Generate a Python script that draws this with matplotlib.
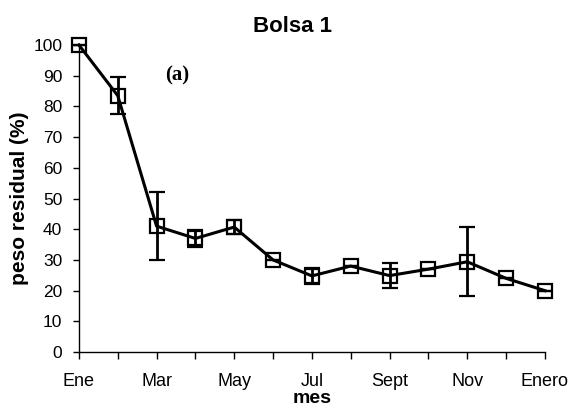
import numpy as np
import matplotlib.pyplot as plt

plt.rcParams['font.family'] = ['Liberation Sans', 'DejaVu Sans']

# monthly residual weight, bag 1
meses = ["Ene", "Feb", "Mar", "Abr", "May", "Jun", "Jul", "Ago",
         "Sept", "Oct", "Nov", "Dic", "Enero"]
peso = [100, 83.5, 41, 37, 40.7, 30, 24.8, 28, 24.9, 27, 29.4, 24, 20]
error = [0, 6, 11, 2.8, 2.4, 0, 2.5, 0, 4, 0, 11.3, 0, 0]
etiquetas = ["Ene", "", "Mar", "", "May", "", "Jul", "", "Sept", "", "Nov", "", "Enero"]

x = np.arange(len(meses))

fig = plt.figure(figsize=(5.76, 4.07), dpi=100)
ax = fig.add_axes([0.137, 0.135, 0.809, 0.7545])

ax.errorbar(x, peso, yerr=error, color='black', lw=2.2, elinewidth=2,
            capsize=6, capthick=2, marker='s', markersize=10,
            markerfacecolor='none', markeredgecolor='black', markeredgewidth=1.6,
            clip_on=False, zorder=3)

ax.set_xlim(0, 12)
ax.set_ylim(0, 100)
ax.set_yticks(np.arange(0, 101, 10))
ax.set_xticks(x)
ax.set_xticklabels(etiquetas)
ax.tick_params(axis='y', labelsize=12.5, width=1, length=4, direction='out', pad=8)
ax.tick_params(axis='x', labelsize=13, width=1, length=5, direction='out', pad=10)

for s in ['top', 'right']:
    ax.spines[s].set_visible(False)
for s in ['left', 'bottom']:
    ax.spines[s].set_linewidth(1)

ax.set_ylabel("peso residual (%)", fontsize=15, fontweight='bold', labelpad=3)
ax.set_xlabel("mes", fontsize=14, fontweight='bold', labelpad=0)
fig.text(0.508, 0.936, "Bolsa 1", fontsize=16, fontweight='bold',
         ha='center', va='center')
ax.text(0.185, 0.9, "(a)", transform=ax.transAxes, fontsize=15,
        fontweight='bold', family='Liberation Serif', va='center')

fig.savefig("out.png")
